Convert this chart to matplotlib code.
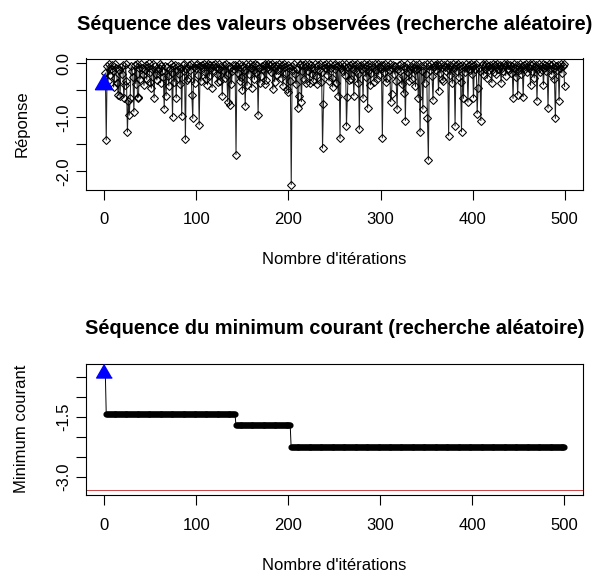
import matplotlib
matplotlib.use("Agg")
import matplotlib.pyplot as plt
import numpy as np

# ---------------- data ----------------
observed = [
    # 0-19
    -0.39, -0.18, -1.42, -0.05, -0.32, -0.02, -0.21, -0.11, -0.03, -0.15, -0.44, -0.27, -0.01, -0.09, -0.36, -0.59, -0.13, -0.61, -0.07, -0.19,
    # 20-39
    -0.03, -0.64, -0.40, -0.02, -0.33, -1.27, -0.70, -0.96, -0.64, -0.06, -0.14, -0.25, -0.90, -0.04, -0.38, -0.01, -0.64, -0.62, -0.08, -0.29,
    # 40-59
    -0.02, -0.09, -0.22, -0.41, -0.13, -0.03, -0.30, -0.07, -0.002, -0.16, -0.35, -0.46, -0.10, -0.02, -0.64, -0.06, -0.19, -0.31, -0.12, -0.08,
    # 60-79
    -0.01, -0.36, -0.05, -0.14, -0.26, -0.84, -0.05, -0.60, -0.07, -0.23, -0.42, -0.11, -0.02, -0.18, -0.99, -0.06, -0.34, -0.03, -0.64, -0.13,
    # 80-99
    -0.05, -0.20, -0.39, -0.08, -0.97, -0.04, -0.15, -0.02, -1.41, -0.10, -0.31, -0.28, -0.03, -0.12, -0.01, -0.59, -1.02, -0.07, -0.37, -0.04,
    # 100-119
    -0.09, -0.02, -0.21, -1.14, -0.05, -0.33, -0.03, -0.08, -0.01, -0.16, -0.29, -0.06, -0.40, -0.02, -0.24, -0.04, -0.09, -0.45, -0.03, -0.14,
    # 120-139
    -0.01, -0.07, -0.19, -0.35, -0.10, -0.02, -0.32, -0.06, -0.60, -0.12, -0.03, -0.28, -0.01, -0.22, -0.71, -0.05, -0.78, -0.09, -0.38, -0.15,
    # 140-159
    -0.04, -0.11, -0.03, -1.69, -0.06, -0.18, -0.01, -0.33, -0.26, -0.04, -0.50, -0.07, -0.13, -0.79, -0.02, -0.41, -0.05, -0.20, -0.01, -0.08,
    # 160-179
    -0.45, -0.03, -0.12, -0.30, -0.01, -0.17, -0.04, -0.96, -0.09, -0.36, -0.23, -0.05, -0.11, -0.03, -0.39, -0.01, -0.31, -0.07, -0.02, -0.10,
    # 180-199
    -0.04, -0.16, -0.01, -0.48, -0.06, -0.34, -0.03, -0.21, -0.05, -0.12, -0.01, -0.08, -0.27, -0.03, -0.42, -0.02, -0.07, -0.18, -0.48, -0.04,
    # 200-219
    -0.54, -0.09, -0.33, -2.245, -0.06, -0.13, -0.01, -0.20, -0.38, -0.10, -0.83, -0.60, -0.02, -0.04, -0.71, -0.15, -0.03, -0.29, -0.02, -0.37,
    # 220-239
    -0.06, -0.14, -0.01, -0.37, -0.08, -0.03, -0.19, -0.32, -0.10, -0.02, -0.24, -0.38, -0.04, -0.12, -0.01, -0.35, -0.16, -1.57, -0.75, -0.03,
    # 240-259
    -0.09, -0.02, -0.21, -0.05, -0.33, -0.01, -0.08, -0.28, -0.44, -0.04, -0.11, -0.02, -0.37, -0.06, -0.60, -0.03, -1.39, -0.09, -0.01, -0.14,
    # 260-279
    -0.05, -0.22, -0.02, -1.16, -0.63, -0.07, -0.31, -0.03, -0.30, -0.01, -0.10, -0.60, -0.04, -0.15, -0.02, -0.36, -0.19, -1.22, -0.06, -0.03,
    # 280-299
    -0.11, -0.65, -0.02, -0.09, -0.25, -0.04, -0.83, -0.01, -0.13, -0.40, -0.18, -0.03, -0.08, -0.34, -0.02, -0.12, -0.29, -0.01, -0.21, -0.07,
    # 300-319
    -0.03, -0.10, -1.38, -0.04, -0.16, -0.01, -0.35, -0.27, -0.05, -0.12, -0.02, -0.71, -0.56, -0.09, -0.03, -0.20, -0.06, -0.32, -0.85, -0.11,
    # 320-339
    -0.04, -0.14, -0.02, -0.39, -0.23, -0.55, -0.05, -1.06, -0.09, -0.01, -0.17, -0.33, -0.11, -0.06, -0.29, -0.02, -0.08, -0.13, -0.43, -0.04,
    # 340-359
    -0.10, -0.64, -0.02, -1.27, -0.06, -0.15, -0.85, -0.03, -0.36, -0.19, -0.01, -1.02, -1.79, -0.05, -0.12, -0.02, -0.24, -0.68, -0.07, -0.03,
    # 360-379
    -0.13, -0.01, -0.04, -0.51, -0.05, -0.18, -0.02, -0.30, -0.32, -0.04, -0.07, -0.15, -0.01, -0.09, -1.34, -0.03, -0.21, -0.06, -0.37, -0.02,
    # 380-399
    -0.08, -1.16, -0.04, -0.14, -0.01, -0.26, -0.05, -0.34, -1.27, -0.03, -0.65, -0.07, -0.17, -0.02, -0.09, -0.72, -0.04, -0.12, -0.01, -0.20,
    # 400-419
    -0.06, -0.64, -0.03, -0.11, -0.02, -0.93, -0.45, -0.08, -0.15, -1.06, -0.04, -0.01, -0.22, -0.06, -0.10, -0.02, -0.28, -0.05, -0.13, -0.03,
    # 420-439
    -0.09, -0.36, -0.01, -0.16, -0.04, -0.07, -0.19, -0.02, -0.11, -0.05, -0.03, -0.36, -0.08, -0.14, -0.01, -0.06, -0.23, -0.02, -0.10, -0.04,
    # 440-459
    -0.12, -0.03, -0.18, -0.06, -0.65, -0.01, -0.09, -0.25, -0.04, -0.59, -0.07, -0.13, -0.02, -0.20, -0.05, -0.62, -0.03, -0.11, -0.01, -0.16,
    # 460-479
    -0.06, -0.09, -0.02, -0.41, -0.04, -0.14, -0.01, -0.27, -0.07, -0.03, -0.69, -0.10, -0.02, -0.17, -0.05, -0.12, -0.01, -0.40, -0.08, -0.03,
    # 480-499
    -0.15, -0.06, -0.83, -0.02, -0.11, -0.04, -0.21, -0.01, -0.09, -0.30, -1.02, -0.05, -0.13, -0.03, -0.69, -0.08, -0.02, -0.18, -0.06, -0.01,
    # 500
    -0.43,
]
iterations = list(range(len(observed)))
true_minimum = -3.32237

x_ticks = [0, 100, 200, 300, 400, 500]
x_ticklabels = ["0", "100", "200", "300", "400", "500"]
top_yticks = [0.0, -0.5, -1.0, -1.5, -2.0]
top_yticklabels = ["0.0", "", "-1.0", "", "-2.0"]
bottom_yticks = [-0.5, -1.0, -1.5, -2.0, -2.5, -3.0]
bottom_yticklabels = ["", "", "-1.5", "", "", "-3.0"]

title_top = "Séquence des valeurs observées (recherche aléatoire)"
title_bottom = "Séquence du minimum courant (recherche aléatoire)"
xlabel_text = "Nombre d'itérations"
ylabel_top = "Réponse"
ylabel_bottom = "Minimum courant"

running_min = np.minimum.accumulate(np.array(observed))

# ---------------- figure ----------------
plt.rcParams["font.family"] = ["Liberation Sans", "DejaVu Sans"]
W, H = 602, 574
fig = plt.figure(figsize=(W / 100, H / 100), dpi=100)


def fx(px):
    return px / W


def fy(py):
    return 1 - py / H


tri = [(0, 1), (-0.866, -0.5), (0.866, -0.5)]

# top panel
ax1 = fig.add_axes([fx(86), fy(189.5), (583 - 86) / W, (189.5 - 58.5) / H])
ax1.plot(iterations, observed, color="#222222", lw=0.75, zorder=2)
ax1.plot(iterations, observed, linestyle="none", marker="D", ms=4.2,
         mfc="none", mec="black", mew=0.75, zorder=3)
ax1.plot(iterations[0], observed[0], linestyle="none", marker=tri, ms=15,
         color="#0000FF", zorder=5)
lo, hi = min(observed), max(observed)
r = hi - lo
ax1.set_ylim(lo - 0.04 * r, hi + 0.04 * r)
ax1.set_xlim(-20, 520)
ax1.set_yticks(top_yticks)
ax1.set_yticklabels(top_yticklabels, rotation=90, va="center")

# bottom panel
ax2 = fig.add_axes([fx(86), fy(495), (582.7 - 86) / W, (495 - 363.5) / H])
ax2.plot(iterations, running_min, color="black", lw=0.7, marker="o", ms=3.4,
         mfc="black", mec="black", zorder=3)
ax2.axhline(true_minimum, color="#cc4444", lw=0.7, zorder=2)
ax2.plot(iterations[0], running_min[0], linestyle="none", marker=tri, ms=13,
         color="#0000FF", zorder=5)
ax2.set_xlim(-20, 520)
ax2.set_ylim(-3.445, -0.156)
ax2.set_yticks(bottom_yticks)
ax2.set_yticklabels(bottom_yticklabels, rotation=90, va="center")

for ax in (ax1, ax2):
    ax.set_xticks(x_ticks)
    ax.set_xticklabels(x_ticklabels)
    for s in ax.spines.values():
        s.set_linewidth(0.8)
        s.set_color("black")
    ax.tick_params(axis="both", direction="out", length=7.2, width=0.8,
                   labelsize=12, colors="black")
    ax.tick_params(axis="x", pad=9)
    ax.tick_params(axis="y", pad=3.2)

# titles and labels
fig.text(fx(334.5), fy(29.5), title_top, ha="center", va="baseline",
         fontsize=14.4, fontweight="bold")
fig.text(fx(334.5), fy(334.5), title_bottom, ha="center", va="baseline",
         fontsize=14.4, fontweight="bold")
fig.text(fx(334.5), fy(264), xlabel_text, ha="center", va="baseline", fontsize=12)
fig.text(fx(334.5), fy(569.5), xlabel_text, ha="center", va="baseline", fontsize=12)
fig.text(fx(21.7), fy(124), ylabel_top, ha="center", va="center", rotation=90, fontsize=12)
fig.text(fx(21.7), fy(429), ylabel_bottom, ha="center", va="center", rotation=90, fontsize=12)

fig.savefig("out.png", dpi=100)
